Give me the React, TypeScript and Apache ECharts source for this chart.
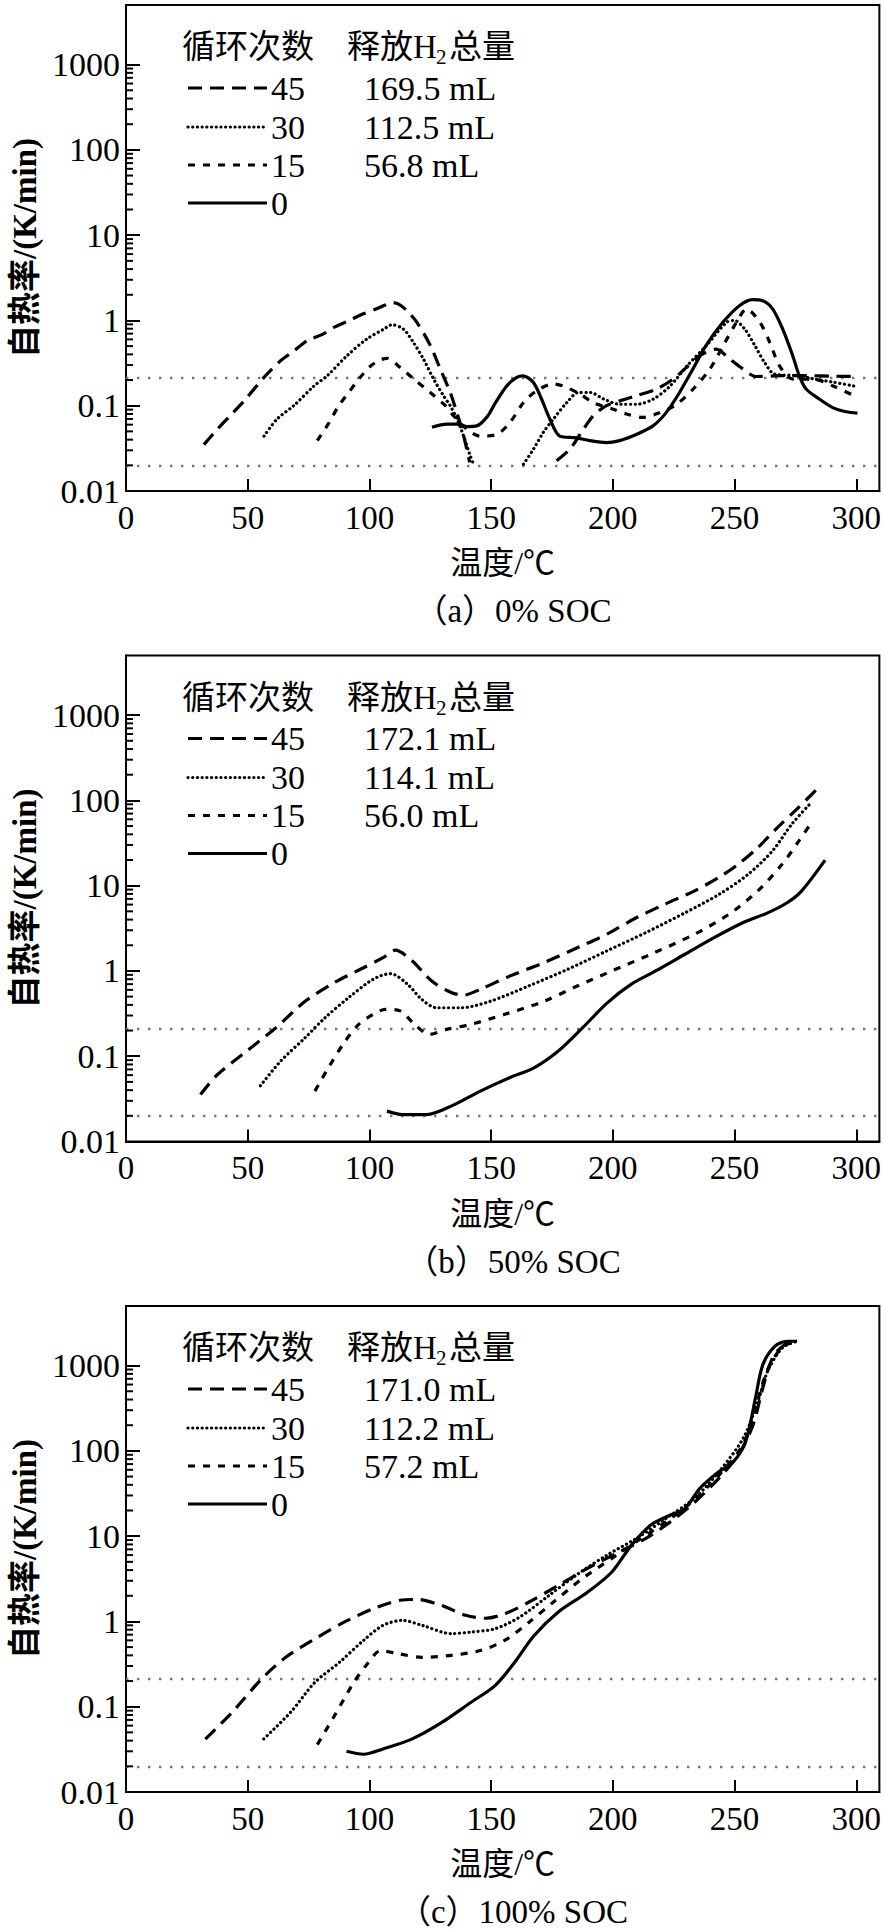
import React, { useEffect, useRef } from 'react';
import * as echarts from 'echarts';

// ---------- axis labels ----------
const xTickLabels = ['0', '50', '100', '150', '200', '250', '300'];
const yTickLabels = ['0.01', '0.1', '1', '10', '100', '1000'];
const minorMantissas = [2, 3, 4, 5, 6, 7, 8, 9];
const minorDecades = [0.01, 0.1, 1, 10, 100];
const thresholdLines = [0.21, 0.02];

// ---------- legend ----------
const cycleNames = ['45', '30', '15', '0'];
const h2VolumeA = ['169.5 mL', '112.5 mL', '56.8 mL', ''];
const h2VolumeB = ['172.1 mL', '114.1 mL', '56.0 mL', ''];
const h2VolumeC = ['171.0 mL', '112.2 mL', '57.2 mL', ''];
const panelCaptions = ['（a）0% SOC', '（b）50% SOC', '（c）100% SOC'];

// ---------- (a) 0% SOC : [temperature °C, self-heating rate K/min] ----------
const a45: [number, number | null][] = [
  [32, 0.035], [37, 0.051], [42.5, 0.075], [48.5, 0.114], [56.7, 0.215], [63.5, 0.337],
  [69, 0.44], [74.5, 0.58], [80.9, 0.69], [85.4, 0.83], [91.8, 1.0], [96.3, 1.16],
  [102.7, 1.36], [106.5, 1.52], [109.3, 1.62], [112, 1.55], [115.4, 1.3], [119.5, 0.95],
  [125, 0.51], [129.1, 0.27], [133.2, 0.143], [135.9, 0.083], [138, 0.053], [140, 0.031],
  [141.2, 0.0216], [160, null],
  [176.9, 0.0226], [182.4, 0.031], [186.5, 0.046], [191.9, 0.076], [197.4, 0.1],
  [202.9, 0.114], [209.7, 0.131], [217.9, 0.157], [224.7, 0.205], [230.2, 0.28],
  [235.7, 0.386], [242.5, 0.46], [248, 0.353], [253.4, 0.27], [258.9, 0.22],
  [270, 0.225], [280, 0.225], [290, 0.222], [300, 0.22],
];
const a30: [number, number | null][] = [
  [56.7, 0.044], [62.1, 0.07], [68.9, 0.1], [77.2, 0.17], [82.6, 0.224], [90.8, 0.386],
  [99, 0.607], [105.9, 0.79], [109.3, 0.89], [114, 0.79], [118.1, 0.55], [122.2, 0.353],
  [126.4, 0.205], [130.5, 0.13], [133.2, 0.1], [136, 0.07], [138.7, 0.044], [141.4, 0.026],
  [142.8, 0.0206], [153, null],
  [163.3, 0.0206], [167.4, 0.031], [171.5, 0.049], [175.6, 0.07], [181.1, 0.109],
  [185.9, 0.143], [190.7, 0.143], [196.2, 0.12], [203, 0.104], [209.8, 0.104],
  [216.7, 0.12], [223.5, 0.17], [230.3, 0.29], [238.5, 0.51], [246.7, 0.95], [250, 1.0],
  [254.2, 0.79], [258.3, 0.51], [262.4, 0.32], [266.4, 0.235], [276, 0.225],
  [282.9, 0.205], [291, 0.188], [299.2, 0.17],
];
const a15: [number, number | null][] = [
  [78.6, 0.039], [83.3, 0.0625], [87.4, 0.1], [91.5, 0.143], [95.6, 0.205], [100.4, 0.29],
  [104, 0.34], [107.2, 0.36], [112.7, 0.28], [118.2, 0.206], [125, 0.143], [131.2, 0.1],
  [134.6, 0.076], [140.1, 0.053], [145.5, 0.044], [152.3, 0.046], [157.8, 0.064],
  [163.3, 0.109], [168.7, 0.15], [175.6, 0.18], [179.6, 0.17], [186.5, 0.137],
  [191.9, 0.109], [200.1, 0.091], [205.6, 0.08], [212.4, 0.073], [219.3, 0.083],
  [226.2, 0.104], [233, 0.157], [239.9, 0.27], [245.4, 0.51], [250.8, 0.95], [254.9, 1.36],
  [260.4, 0.95], [264.5, 0.55], [268.6, 0.29], [274.1, 0.205], [282.3, 0.205],
  [290.5, 0.17], [299.3, 0.13],
];
const a0: [number, number | null][] = [
  [125.7, 0.056], [131.8, 0.061], [135.9, 0.061], [140, 0.057], [144.1, 0.058],
  [148.5, 0.075], [151.5, 0.105], [156.4, 0.17], [160.5, 0.215], [163.2, 0.224],
  [167.3, 0.188], [170.7, 0.12], [174.1, 0.07], [178.2, 0.044], [185, 0.042],
  [190.5, 0.039], [197.3, 0.037], [202.8, 0.039], [209.6, 0.046], [216.5, 0.058],
  [221.9, 0.083], [227.4, 0.143], [232.9, 0.27], [238.3, 0.51], [245.2, 0.95], [252, 1.49],
  [257.5, 1.75], [261.6, 1.7], [265.7, 1.36], [269.8, 0.79], [273.9, 0.386], [276.6, 0.224],
  [279.4, 0.157], [284.8, 0.12], [290.3, 0.095], [295.8, 0.085], [300.5, 0.082],
];

// ---------- (b) 50% SOC ----------
const b45: [number, number | null][] = [
  [30.6, 0.0356], [37.6, 0.061], [49.6, 0.115], [61.6, 0.216], [73.6, 0.44], [85.6, 0.73],
  [97.6, 1.09], [105.6, 1.43], [110.6, 1.75], [117.6, 1.31], [125.6, 0.76], [133.6, 0.56],
  [138.6, 0.52], [145.6, 0.61], [157.6, 0.87], [171.6, 1.25], [185.6, 1.88], [197.6, 2.7],
  [209.6, 4.2], [221.6, 6.1], [233.6, 8.7], [243.6, 12.5], [251.6, 17.9], [259.6, 28],
  [267.6, 48], [275.6, 79], [284.6, 142],
];
const b30: [number, number | null][] = [
  [55.2, 0.045], [63.6, 0.088], [73.6, 0.165], [81.6, 0.28], [91.6, 0.49], [101.6, 0.8],
  [108.6, 0.93], [115.6, 0.7], [121.6, 0.46], [127.6, 0.37], [137.6, 0.37], [149.6, 0.44],
  [165.6, 0.67], [181.6, 1.05], [197.6, 1.72], [213.6, 2.82], [229.6, 4.8], [243.6, 7.9],
  [255.6, 13.6], [265.6, 25.6], [273.6, 53], [281.6, 95],
];
const b15: [number, number | null][] = [
  [77.6, 0.039], [83.6, 0.077], [89.6, 0.144], [95.6, 0.236], [101.6, 0.31], [106.6, 0.355],
  [112.6, 0.34], [118.6, 0.236], [124.6, 0.18], [131.6, 0.206], [141.6, 0.236],
  [155.6, 0.31], [171.6, 0.44], [185.6, 0.67], [199.6, 1.0], [215.6, 1.57], [233.6, 2.7],
  [247.6, 4.6], [259.6, 8.7], [269.6, 17.9], [276.6, 34], [281.6, 55],
];
const b0: [number, number | null][] = [
  [107.2, 0.0227], [113.6, 0.0207], [123.6, 0.0207], [133.6, 0.026], [145.6, 0.039],
  [157.6, 0.056], [167.6, 0.073], [177.6, 0.115], [187.6, 0.216], [197.6, 0.42],
  [207.6, 0.7], [217.6, 1.0], [229.6, 1.57], [241.6, 2.46], [253.6, 3.7], [263.6, 4.8],
  [271.6, 6.3], [277.6, 8.7], [287.2, 19.9],
];

// ---------- (c) 100% SOC ----------
const c45: [number, number | null][] = [
  [32.6, 0.0417], [43.6, 0.086], [55.6, 0.21], [65.6, 0.38], [77.6, 0.625], [89.6, 0.98],
  [101.6, 1.41], [112.6, 1.77], [119.6, 1.81], [129.6, 1.54], [139.6, 1.18], [147.6, 1.09],
  [155.6, 1.23], [165.6, 1.69], [177.6, 2.65], [189.6, 4.2], [201.6, 6.3], [213.6, 9.4],
  [223.6, 14.7], [233.6, 25], [243.6, 48], [251.6, 90], [257.6, 202], [261.6, 546],
  [265.6, 1230], [270.6, 1770], [275.6, 1930],
];
const c30: [number, number | null][] = [
  [56.6, 0.042], [67.6, 0.086], [77.6, 0.193], [87.6, 0.33], [97.6, 0.6], [105.6, 0.9],
  [113.6, 1.03], [121.6, 0.9], [133.6, 0.72], [141.6, 0.75], [151.6, 0.82], [161.6, 1.12],
  [173.6, 2.0], [185.6, 3.6], [197.6, 6.0], [209.6, 9.4], [221.6, 16], [233.6, 28],
  [243.6, 57], [253.6, 141], [259.6, 380], [263.6, 860], [269.6, 1610], [275.6, 1930],
];
const c15: [number, number | null][] = [
  [78.6, 0.036], [85.6, 0.078], [93.6, 0.193], [99.6, 0.33], [104.6, 0.456], [111.6, 0.42],
  [121.6, 0.38], [133.6, 0.4], [145.6, 0.456], [155.6, 0.6], [165.6, 0.98], [175.6, 1.69],
  [187.6, 3.2], [199.6, 5.5], [211.6, 9.4], [223.6, 16], [233.6, 27], [243.6, 52],
  [253.6, 120], [259.6, 400], [263.6, 900], [269.6, 1650], [275.6, 1930],
];
const c0: [number, number | null][] = [
  [90.6, 0.03], [97.6, 0.0277], [105.6, 0.032], [117.6, 0.042], [129.6, 0.065],
  [141.6, 0.112], [151.6, 0.177], [159.6, 0.33], [167.6, 0.68], [177.6, 1.29], [189.6, 2.2],
  [199.6, 3.8], [207.6, 7.8], [215.6, 13.5], [223.6, 17.7], [229.6, 21], [235.6, 36],
  [243.6, 57], [249.6, 75], [254.6, 129], [258.6, 417], [261.6, 1020], [266.6, 1690],
  [271.6, 1930], [275.6, 1930],
];

const panelData = [
  [a45, a30, a15, a0],
  [b45, b30, b15, b0],
  [c45, c30, c15, c0],
];
const panelVolumes = [h2VolumeA, h2VolumeB, h2VolumeC];

// ---------- styles ----------
const FONT = "'Liberation Serif', 'Noto Sans CJK SC', serif";
const FONT_NUM = "'Liberation Serif', serif";
const LINE_W = 3.2;
const lineTypes: any[] = [[14, 8], [0.1, 4.6], [7, 8], 'solid'];
const lineCaps: any[] = ['butt', 'round', 'butt', 'butt'];

const GRID_LEFT = 126;
const GRID_W = 754;
const GRID_H = 486;
const PANEL_TOPS = [5, 655.5, 1306];
const X_MAX = 309.5;
const Y_MIN = 0.01;
const Y_MAX = 5000;

const minorTickValues: number[] = [];
minorDecades.forEach((d) => minorMantissas.forEach((m) => minorTickValues.push(+(m * d).toPrecision(3))));

function yLabel(v: number): string {
  const l = Math.log10(v);
  const r = Math.round(l);
  if (Math.abs(l - r) > 1e-6) return '';
  const s = yTickLabels[r + 2];
  return s === undefined ? '' : s;
}
function xLabel(v: number): string {
  const i = Math.round(v / 50);
  if (Math.abs(v - i * 50) > 1e-6) return '';
  const s = xTickLabels[i];
  return s === undefined ? '' : s;
}

export default function App() {
  const ref = useRef<HTMLDivElement>(null);

  useEffect(() => {
    if (!ref.current) return;
    const chart = echarts.init(ref.current, null, { renderer: 'svg' });

    const grids: any[] = [];
    const xAxes: any[] = [];
    const yAxes: any[] = [];
    const series: any[] = [];
    const graphics: any[] = [];

    PANEL_TOPS.forEach((top, p) => {
      grids.push({
        left: GRID_LEFT, top, width: GRID_W, height: GRID_H,
        show: true, borderColor: '#000', borderWidth: 2, backgroundColor: 'transparent',
      });
      xAxes.push({
        type: 'value', gridIndex: p, min: 0, max: X_MAX, interval: 50,
        name: '温度/℃', nameLocation: 'middle', nameGap: 56,
        nameTextStyle: { fontFamily: FONT, fontSize: 32, color: '#000' },
        axisLine: { show: true, lineStyle: { color: '#000', width: 2 } },
        axisTick: { show: true, inside: true, length: 12, lineStyle: { color: '#000', width: 2 } },
        axisLabel: { show: true, margin: 10, fontFamily: FONT_NUM, fontSize: 33, color: '#000', formatter: xLabel, showMaxLabel: false },
        splitLine: { show: false },
      });
      yAxes.push({
        type: 'log', logBase: 10, gridIndex: p, min: Y_MIN, max: Y_MAX,
        name: '自热率/(K/min)', nameLocation: 'middle', nameGap: 84,
        nameTextStyle: { fontFamily: FONT, fontSize: 33, fontWeight: 'bold', color: '#000' },
        axisLine: { show: true, lineStyle: { color: '#000', width: 2 } },
        axisTick: { show: true, inside: true, length: 14, lineStyle: { color: '#000', width: 2 } },
        axisLabel: { show: true, margin: 6, fontFamily: FONT_NUM, fontSize: 34, color: '#000', formatter: yLabel, showMaxLabel: false },
        splitLine: { show: false },
      });

      panelData[p].forEach((data, k) => {
        const s: any = {
          type: 'line', name: cycleNames[k], xAxisIndex: p, yAxisIndex: p,
          data, smooth: 0.3, symbol: 'none', showSymbol: false, connectNulls: false,
          lineStyle: { color: '#000', width: LINE_W, type: lineTypes[k], cap: lineCaps[k] },
          silent: true, z: 3,
        };
        if (k === 3) {
          s.markLine = {
            silent: true, symbol: ['none', 'none'], label: { show: false },
            lineStyle: { color: '#777', width: 2.4, type: [2.4, 8.6] },
            data: thresholdLines.map((v) => ({ yAxis: v })),
            z: 1,
          };
        }
        series.push(s);
      });

      series.push({
        type: 'custom', xAxisIndex: p, yAxisIndex: p, silent: true, clip: false, z: 4,
        data: minorTickValues.map((v) => [0, v]),
        renderItem: (_params: any, api: any) => {
          const pt = api.coord([0, api.value(1)]);
          return {
            type: 'line',
            shape: { x1: pt[0], y1: pt[1], x2: pt[0] + 7, y2: pt[1] },
            style: { stroke: '#000', lineWidth: 2 },
          };
        },
      });

      // legend block
      const dy = top - 5;
      const rowY = [88, 127, 165, 203];
      const txt = (x: number, y: number, text: string, size = 32, align = 'left', family = FONT) => ({
        type: 'text', x, y,
        style: { text, fontFamily: family, fontSize: size, fill: '#000', align, verticalAlign: 'middle' },
      });
      graphics.push(txt(182, 47 + dy, '循环次数', 33));
      graphics.push(txt(347, 47 + dy, '释放H', 33));
      graphics.push(txt(436, 57 + dy, '2', 21, 'left', FONT_NUM));
      graphics.push(txt(449, 47 + dy, '总量', 33));
      cycleNames.forEach((name, k) => {
        const y = rowY[k] + dy;
        const dash = Array.isArray(lineTypes[k]) ? lineTypes[k] : null;
        graphics.push({
          type: 'line', shape: { x1: 188, y1: y, x2: 267, y2: y },
          style: { stroke: '#000', lineWidth: LINE_W, lineDash: dash, lineCap: lineCaps[k] },
        });
        graphics.push(txt(271, y, name, 34, 'left', FONT_NUM));
        if (panelVolumes[p][k]) graphics.push(txt(364, y, panelVolumes[p][k], 34, 'left', FONT_NUM));
      });
      graphics.push(txt(513, 611 + dy, panelCaptions[p], 33, 'center'));
    });

    chart.setOption({
      animation: false,
      backgroundColor: '#fff',
      grid: grids,
      xAxis: xAxes,
      yAxis: yAxes,
      series,
      graphic: graphics,
    });

    return () => chart.dispose();
  }, []);

  return (
    <div
      ref={ref}
      style={{ position: 'absolute', left: 0, top: 0, width: 884, height: 1929, background: '#fff' }}
    />
  );
}
